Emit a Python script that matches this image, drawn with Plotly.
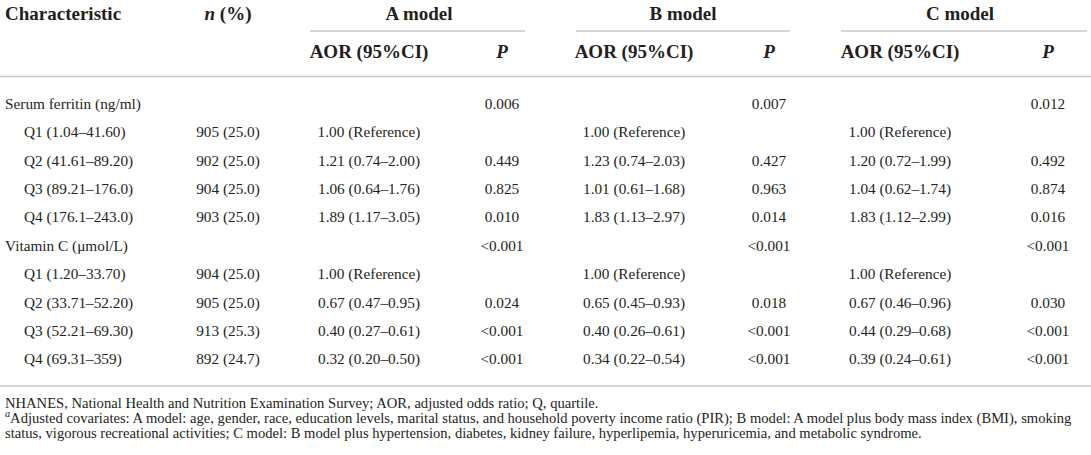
import plotly.graph_objects as go

# -----------------------------------------
# DATA
# -----------------------------------------
characteristics = [
    "Serum ferritin (ng/ml)",
    "Q1 (1.04–41.60)",
    "Q2 (41.61–89.20)",
    "Q3 (89.21–176.0)",
    "Q4 (176.1–243.0)",
    "Vitamin C (μmol/L)",
    "Q1 (1.20–33.70)",
    "Q2 (33.71–52.20)",
    "Q3 (52.21–69.30)",
    "Q4 (69.31–359)",
]
is_group = [True, False, False, False, False, True, False, False, False, False]

n_pct = ["", "905 (25.0)", "902 (25.0)", "904 (25.0)", "903 (25.0)",
         "", "904 (25.0)", "905 (25.0)", "913 (25.3)", "892 (24.7)"]

a_aor = ["", "1.00 (Reference)", "1.21 (0.74–2.00)", "1.06 (0.64–1.76)", "1.89 (1.17–3.05)",
         "", "1.00 (Reference)", "0.67 (0.47–0.95)", "0.40 (0.27–0.61)", "0.32 (0.20–0.50)"]
a_p = ["0.006", "", "0.449", "0.825", "0.010",
       "<0.001", "", "0.024", "<0.001", "<0.001"]

b_aor = ["", "1.00 (Reference)", "1.23 (0.74–2.03)", "1.01 (0.61–1.68)", "1.83 (1.13–2.97)",
         "", "1.00 (Reference)", "0.65 (0.45–0.93)", "0.40 (0.26–0.61)", "0.34 (0.22–0.54)"]
b_p = ["0.007", "", "0.427", "0.963", "0.014",
       "<0.001", "", "0.018", "<0.001", "<0.001"]

c_aor = ["", "1.00 (Reference)", "1.20 (0.72–1.99)", "1.04 (0.62–1.74)", "1.83 (1.12–2.99)",
         "", "1.00 (Reference)", "0.67 (0.46–0.96)", "0.44 (0.29–0.68)", "0.39 (0.24–0.61)"]
c_p = ["0.012", "", "0.492", "0.874", "0.016",
       "<0.001", "", "0.030", "<0.001", "<0.001"]

model_names = ["A model", "B model", "C model"]

footnotes = [
    "NHANES, National Health and Nutrition Examination Survey; AOR, adjusted odds ratio; Q, quartile.",
    "<sup><i>a</i></sup>Adjusted covariates: A model: age, gender, race, education levels, marital status, "
    "and household poverty income ratio (PIR); B model: A model plus body mass index (BMI), smoking",
    "status, vigorous recreational activities; C model: B model plus hypertension, diabetes, kidney "
    "failure, hyperlipemia, hyperuricemia, and metabolic syndrome.",
]

# -----------------------------------------
# LAYOUT SETTINGS (screen pixels)
# -----------------------------------------
W, H = 1091, 455
FONT = "Liberation Serif, DejaVu Serif, serif"
TXT = "#231f20"
LINE = "#c8c8c8"
BODY_SIZE = 15.3
HEAD_SIZE = 19
NOTE_SIZE = 14.6

ROW0, ROW_STEP = 105, 28.4
row_y = [ROW0 + i * ROW_STEP for i in range(len(characteristics))]
HEAD1_Y, HEAD2_Y = 15, 53
NOTE_Y0, NOTE_STEP = 404, 15

X_GROUP, X_SUB = 5, 24
X_N = 228
X_AOR = [369, 634, 900]
X_P = [502, 769, 1048]
X_MODEL = [419, 683, 960]
SPANS = [(310, 525), (576, 790), (841, 1087)]

fig = go.Figure()


def text_col(x, y, text, size, pos="middle center"):
    fig.add_trace(go.Scatter(
        x=x, y=y, text=text, mode="text",
        textposition=pos, cliponaxis=False,
        textfont=dict(family=FONT, size=size, color=TXT),
        hoverinfo="skip", showlegend=False,
    ))


# body: characteristic column
text_col([X_GROUP if g else X_SUB for g in is_group], row_y, characteristics,
         BODY_SIZE, "middle right")
text_col([X_N] * len(n_pct), row_y, n_pct, BODY_SIZE)
for i, (aor, p) in enumerate([(a_aor, a_p), (b_aor, b_p), (c_aor, c_p)]):
    text_col([X_AOR[i]] * len(aor), row_y, aor, BODY_SIZE)
    text_col([X_P[i]] * len(p), row_y, p, BODY_SIZE)

# header
text_col([X_GROUP], [HEAD1_Y], ["<b>Characteristic</b>"], HEAD_SIZE, "middle right")
text_col([X_N], [HEAD1_Y], ["<b><i>n</i> (%)</b>"], HEAD_SIZE)
text_col(X_MODEL, [HEAD1_Y] * 3, [f"<b>{m}</b>" for m in model_names], HEAD_SIZE)
text_col(X_AOR, [HEAD2_Y] * 3, ["<b>AOR (95%CI)</b>"] * 3, HEAD_SIZE)
text_col(X_P, [HEAD2_Y] * 3, ["<b><i>P</i></b>"] * 3, HEAD_SIZE)

# footnotes
text_col([X_GROUP] * len(footnotes),
         [NOTE_Y0 + i * NOTE_STEP for i in range(len(footnotes))],
         footnotes, NOTE_SIZE, "middle right")

# rules
shapes = []
for x0, x1 in SPANS:
    shapes.append(dict(type="line", x0=x0, x1=x1, y0=31, y1=31,
                       line=dict(color=LINE, width=1.6)))
for yy in (76.5, 386):
    shapes.append(dict(type="line", x0=0, x1=W, y0=yy, y1=yy,
                       line=dict(color=LINE, width=1.6)))

fig.update_layout(
    width=W, height=H,
    margin=dict(l=0, r=0, t=0, b=0),
    paper_bgcolor="white", plot_bgcolor="white",
    xaxis=dict(range=[0, W], visible=False, fixedrange=True),
    yaxis=dict(range=[H, 0], visible=False, fixedrange=True),
    shapes=shapes,
    showlegend=False,
)

# drop the default 8px page margin so the figure sits at the window corner
fig.write_html("out.html", config={"displayModeBar": False},
               post_script="document.body.style.margin='0';")
